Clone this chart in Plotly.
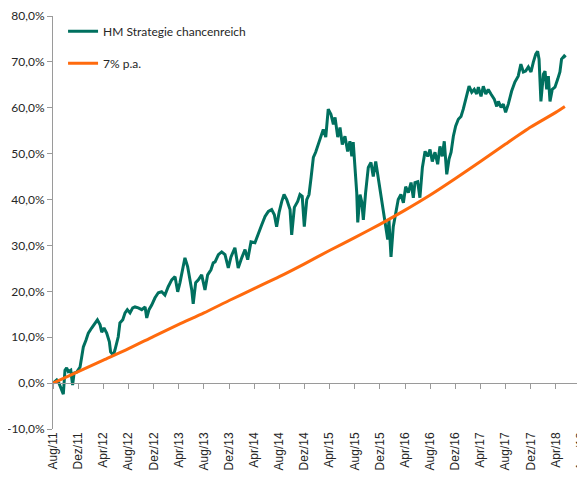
import plotly.graph_objects as go

# ---- data ----
hm_dates = [
    "2011-08-01","2011-08-19","2011-08-30","2011-09-12","2011-09-20","2011-09-28","2011-10-06","2011-10-14",
    "2011-10-26","2011-11-04","2011-11-11","2011-11-24","2011-12-10","2011-12-18","2011-12-26","2012-01-08",
    "2012-01-19","2012-02-04","2012-02-20","2012-03-03","2012-03-16","2012-03-24","2012-04-04","2012-04-17",
    "2012-04-30","2012-05-06","2012-05-19","2012-05-27","2012-06-12","2012-06-20","2012-07-04","2012-07-15",
    "2012-07-26","2012-08-08","2012-08-21","2012-09-01","2012-09-17","2012-10-04","2012-10-20","2012-10-28",
    "2012-11-08","2012-11-21","2012-12-07","2012-12-23","2013-01-08","2013-01-24","2013-02-09","2013-02-26",
    "2013-03-14","2013-03-27","2013-04-07","2013-04-18","2013-05-01","2013-05-14","2013-05-25","2013-06-03",
    "2013-06-10","2013-06-22","2013-07-05","2013-07-21","2013-08-06","2013-08-19","2013-09-04","2013-09-15",
    "2013-09-24","2013-10-10","2013-10-26","2013-11-11","2013-11-27","2013-12-10","2013-12-29","2014-01-14",
    "2014-01-31","2014-02-16","2014-03-01","2014-03-17","2014-04-05","2014-04-21","2014-05-08","2014-05-24",
    "2014-06-09","2014-06-25","2014-07-08","2014-07-19","2014-07-31","2014-08-13","2014-08-24","2014-09-06",
    "2014-09-14","2014-09-22","2014-09-30","2014-10-13","2014-10-29","2014-11-09","2014-11-20","2014-11-30",
    "2014-12-12","2014-12-23","2015-01-02","2015-01-13","2015-01-24","2015-02-06","2015-02-19","2015-03-02",
    "2015-03-14","2015-03-26","2015-04-08","2015-04-20","2015-04-28","2015-05-11","2015-05-22","2015-06-02",
    "2015-06-15","2015-06-28","2015-07-09","2015-07-18","2015-07-25","2015-08-03","2015-08-11","2015-08-16",
    "2015-08-27","2015-09-04","2015-09-12","2015-09-23","2015-10-06","2015-10-19","2015-10-30","2015-11-11",
    "2015-11-23","2015-12-07","2015-12-18","2015-12-29","2016-01-08","2016-01-14","2016-01-24","2016-02-04",
    "2016-02-16","2016-02-28","2016-03-12","2016-03-24","2016-04-04","2016-04-17","2016-04-30","2016-05-11",
    "2016-05-19","2016-06-01","2016-06-12","2016-06-24","2016-07-07","2016-07-20","2016-07-31","2016-08-11",
    "2016-08-24","2016-09-06","2016-09-17","2016-09-28","2016-10-08","2016-10-20","2016-10-31","2016-11-10",
    "2016-11-21","2016-12-02","2016-12-15","2016-12-28","2017-01-08","2017-01-20","2017-01-29","2017-02-05",
    "2017-02-18","2017-03-02","2017-03-14","2017-03-22","2017-04-04","2017-04-15","2017-04-27","2017-05-09",
    "2017-05-22","2017-06-07","2017-06-19","2017-06-27","2017-07-10","2017-07-21","2017-08-01","2017-08-14",
    "2017-08-30","2017-09-15","2017-10-01","2017-10-14","2017-10-26","2017-11-06","2017-11-19","2017-12-02",
    "2017-12-13","2017-12-25","2018-01-03","2018-01-10","2018-01-19","2018-01-31","2018-02-08","2018-02-16",
    "2018-02-24","2018-03-04","2018-03-15","2018-03-28","2018-04-10","2018-04-21","2018-04-29","2018-05-12",
    "2018-05-19",
]
hm_values = [
    0.0, 0.7, 0.0, -1.5, -2.4, 2.8, 3.3, 2.5,
    2.8, -0.4, 2.2, 2.4, 3.5, 5.7, 7.9, 9.4,
    10.9, 12.0, 13.1, 13.8, 12.7, 11.1, 12.0, 10.9,
    9.0, 6.8, 6.1, 7.2, 10.1, 13.1, 13.8, 15.3,
    16.0, 15.3, 16.4, 16.6, 16.4, 16.0, 16.6, 14.2,
    16.0, 17.0, 18.6, 19.7, 19.9, 19.2, 21.0, 22.5,
    23.2, 19.9, 21.9, 24.7, 27.3, 25.4, 22.5, 20.3,
    17.3, 21.9, 22.5, 23.6, 20.3, 23.6, 24.7, 26.2,
    26.4, 28.0, 28.6, 28.0, 25.1, 27.5, 29.5, 25.1,
    27.3, 29.1, 26.9, 30.8, 30.6, 32.3, 34.5, 36.3,
    37.4, 37.8, 36.7, 34.1, 37.2, 39.6, 41.1, 40.0,
    38.9, 37.8, 32.3, 38.3, 39.6, 41.1, 40.7, 34.1,
    40.0, 41.1, 44.8, 49.2, 50.3, 52.0, 53.6, 55.3,
    53.6, 59.7, 58.6, 56.4, 57.9, 53.6, 55.7, 52.0,
    53.8, 50.5, 52.7, 49.4, 52.5, 47.7, 41.5, 35.0,
    41.1, 39.6, 35.6, 41.5, 47.0, 48.1, 45.0, 48.3,
    44.8, 41.5, 37.8, 34.1, 31.3, 35.6, 27.5, 34.1,
    37.4, 40.0, 41.1, 39.3, 42.8, 41.5, 43.7, 40.4,
    43.7, 43.9, 40.4, 47.0, 50.5, 49.4, 50.9, 48.3,
    50.3, 47.7, 51.6, 49.4, 52.7, 45.5, 48.8, 50.3,
    53.8, 56.0, 57.5, 58.1, 59.7, 61.9, 63.4, 64.7,
    63.4, 64.0, 63.0, 64.5, 62.5, 64.7, 63.0, 64.0,
    63.0, 61.9, 60.3, 61.4, 60.1, 60.8, 59.0, 60.8,
    63.6, 65.6, 66.9, 69.5, 67.8, 68.0, 68.9, 67.8,
    69.9, 71.7, 72.3, 70.6, 61.4, 67.3, 68.0, 64.0,
    66.9, 61.4, 64.0, 64.5, 66.2, 67.8, 70.6, 71.3,
    71.0,
]

bench_dates = ["2011-08-01","2011-12-01","2012-04-01","2012-08-01","2012-12-01","2013-04-01",
               "2013-08-01","2013-12-01","2014-04-01","2014-08-01","2014-12-01","2015-04-01",
               "2015-08-01","2015-12-01","2016-04-01","2016-08-01","2016-12-01","2017-04-01",
               "2017-08-01","2017-12-01","2018-04-01","2018-05-15"]
bench_values = [0.0, 2.5, 5.0, 7.5, 10.2, 12.8, 15.3, 18.0, 20.6, 23.2, 26.0, 28.9,
                31.7, 34.6, 37.7, 41.0, 44.6, 48.3, 52.1, 55.8, 59.0, 60.3]

tick_dates = ["2011-08-01","2011-12-01","2012-04-01","2012-08-01","2012-12-01","2013-04-01",
              "2013-08-01","2013-12-01","2014-04-01","2014-08-01","2014-12-01","2015-04-01",
              "2015-08-01","2015-12-01","2016-04-01","2016-08-01","2016-12-01","2017-04-01",
              "2017-08-01","2017-12-01","2018-04-01","2018-08-01"]
tick_labels = ["Aug/11","Dez/11","Apr/12","Aug/12","Dez/12","Apr/13","Aug/13","Dez/13",
               "Apr/14","Aug/14","Dez/14","Apr/15","Aug/15","Dez/15","Apr/16","Aug/16",
               "Dez/16","Apr/17","Aug/17","Dez/17","Apr/18","Aug/18"]
y_ticks = [-10, 0, 10, 20, 30, 40, 50, 60, 70, 80]
y_tick_labels = ["-10,0%", "0,0%", "10,0%", "20,0%", "30,0%", "40,0%", "50,0%", "60,0%", "70,0%", "80,0%"]

GREEN = "#00705F"
ORANGE = "#FF6A0D"
AXIS = "#9A9A9A"
TEXT = "#262626"

fig = go.Figure()
fig.add_trace(go.Scatter(x=hm_dates, y=hm_values, mode="lines", name="HM Strategie chancenreich",
                         line=dict(color=GREEN, width=3), legendgroup="a"))
fig.add_trace(go.Scatter(x=bench_dates, y=bench_values, mode="lines", name="7% p.a.",
                         line=dict(color=ORANGE, width=3, shape="spline", smoothing=0.6), legendgroup="b"))
# helper axis carrying the tick marks on the 0% line
fig.add_trace(go.Scatter(x=[], y=[], xaxis="x2", showlegend=False, hoverinfo="skip"))

x_range = ["2011-08-01", "2018-08-06"]
fig.update_layout(
    width=577, height=474,
    margin=dict(l=45, r=3, t=8, b=53),
    paper_bgcolor="white", plot_bgcolor="white",
    showlegend=True,
    legend=dict(x=0.019, y=0.998, xanchor="left", yanchor="top",
                font=dict(family="Lato", size=12, color=TEXT),
                tracegroupgap=13, itemwidth=30, bgcolor="rgba(0,0,0,0)"),
    xaxis=dict(type="date", range=x_range, tickmode="array", tickvals=tick_dates, ticktext=tick_labels,
               tickangle=-90, showgrid=False, showline=False, ticks="", zeroline=False, automargin=False,
               ticklabeloverflow="allow",
               tickfont=dict(family="Liberation Sans", size=12, color=TEXT)),
    xaxis2=dict(type="date", range=x_range, overlaying="x", anchor="free", position=10/90,
                tickmode="array", tickvals=tick_dates, showticklabels=False, showgrid=False,
                showline=True, linecolor=AXIS, linewidth=1, ticks="outside", ticklen=5,
                tickcolor=AXIS, side="bottom", automargin=False),
    yaxis=dict(range=[-10, 80], tickmode="array", tickvals=y_ticks, ticktext=y_tick_labels,
               showgrid=False, zeroline=False, showline=True, linecolor=AXIS, linewidth=1,
               ticks="outside", ticklen=5, tickcolor=AXIS, automargin=False,
               tickfont=dict(family="Lato", size=12, color=TEXT)),
)

fig.write_html("out.html")
